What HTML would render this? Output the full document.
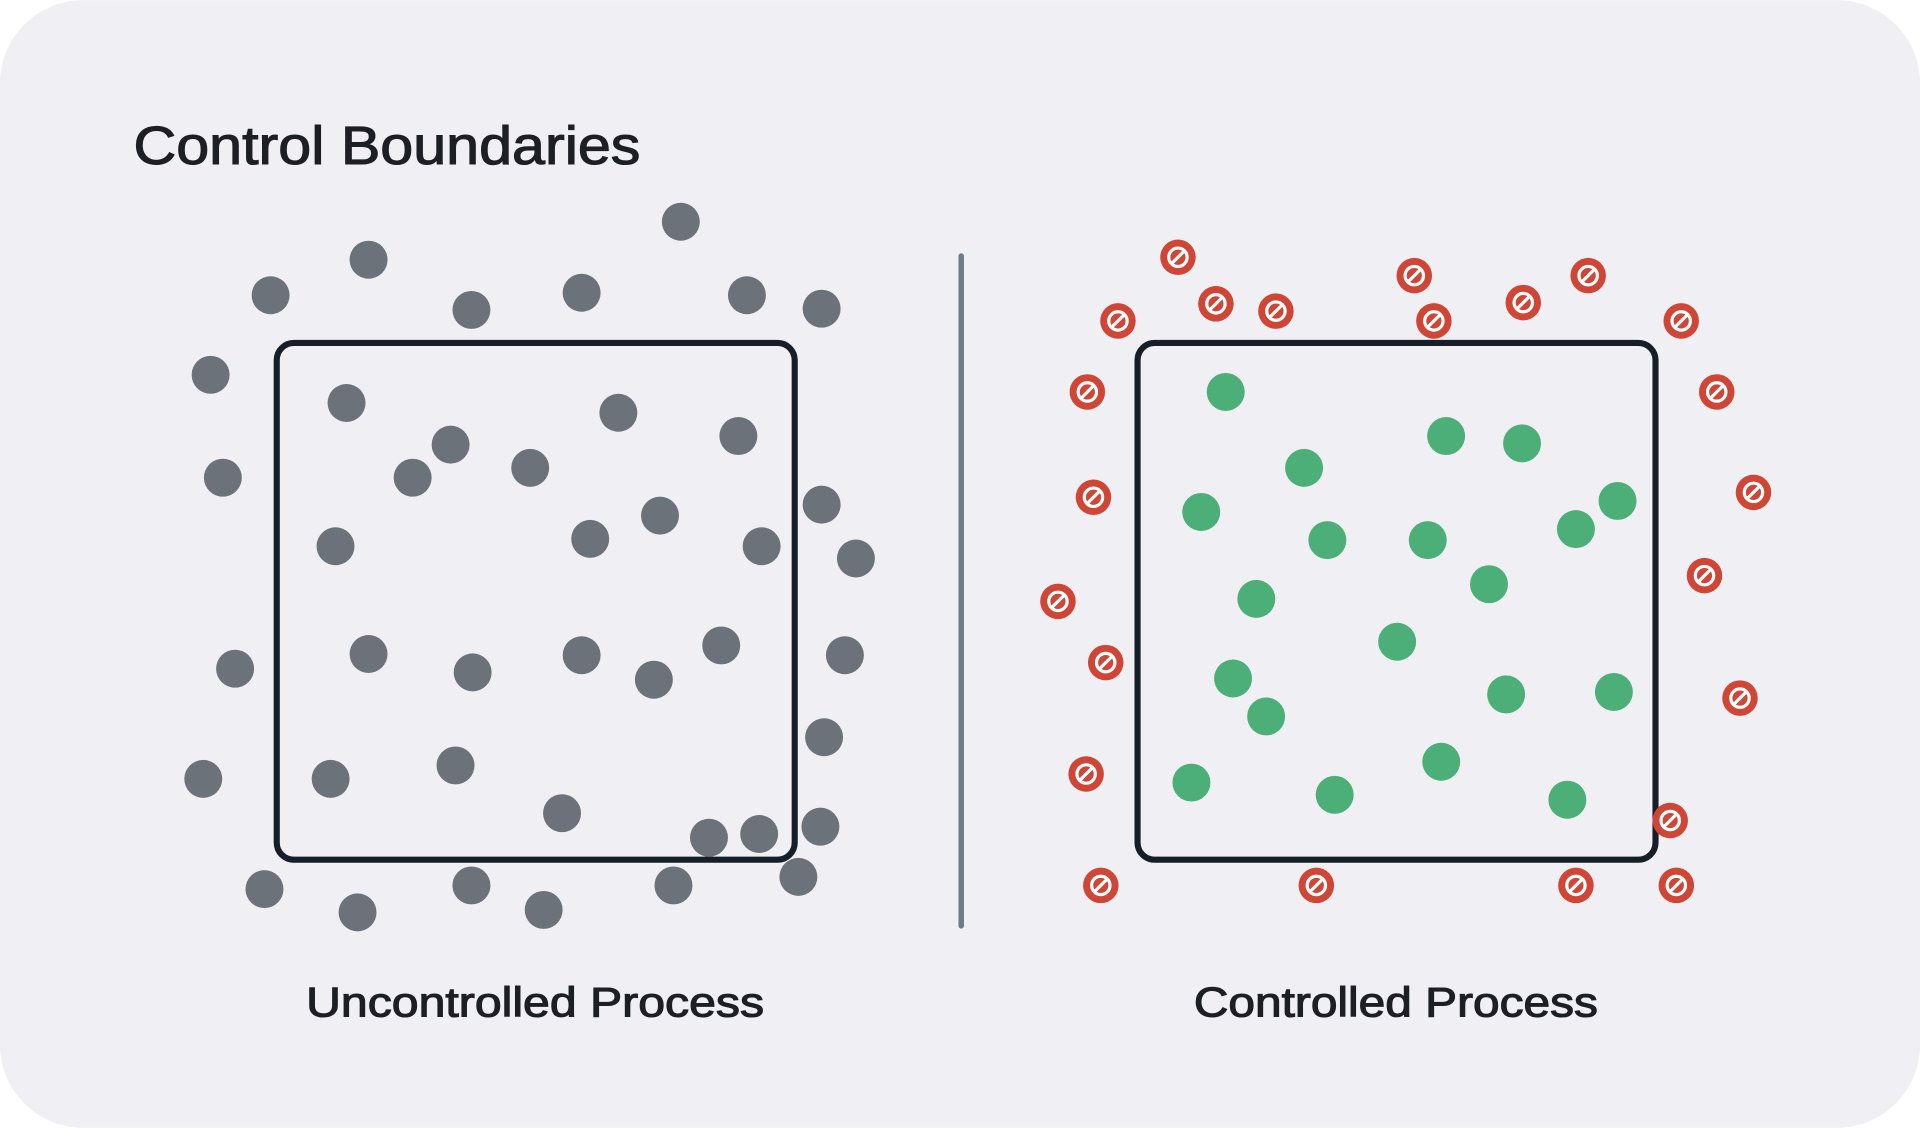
<!DOCTYPE html>
<html><head><meta charset="utf-8"><style>
html,body{margin:0;padding:0;background:#fff;}
svg{display:block;}
</style></head><body>
<svg width="1920" height="1128" viewBox="0 0 1568 921" xmlns="http://www.w3.org/2000/svg">
<defs>
<g id="r">
<circle r="14.5" fill="#cf4636"/>
<circle r="7.5" fill="none" stroke="#fff" stroke-width="2.6"/>
<line x1="-5" y1="5" x2="5" y2="-5" stroke="#fff" stroke-width="2.6"/>
</g>
</defs>
<rect x="0" y="0" width="1568" height="921" rx="68" fill="#f0f0f4"/>
<text x="109" y="134" font-family="Liberation Sans, sans-serif" font-size="44" fill="#1c1f24" stroke="#1c1f24" stroke-width="0.9" textLength="414" lengthAdjust="spacingAndGlyphs">Control Boundaries</text>
<line x1="785" y1="209" x2="785" y2="756" stroke="#6f7c88" stroke-width="4.5" stroke-linecap="round"/>
<rect x="226" y="280" width="423" height="422" rx="14" fill="none" stroke="#161e28" stroke-width="5"/>
<rect x="929" y="280" width="423" height="422" rx="14" fill="none" stroke="#161e28" stroke-width="5"/>
<g fill="#6b727a">
<circle cx="556" cy="181" r="15.5"/><circle cx="301" cy="212" r="15.5"/><circle cx="221" cy="241" r="15.5"/><circle cx="385" cy="253" r="15.5"/><circle cx="475" cy="239" r="15.5"/><circle cx="610" cy="241" r="15.5"/><circle cx="671" cy="252" r="15.5"/><circle cx="172" cy="306" r="15.5"/><circle cx="182" cy="390" r="15.5"/><circle cx="671" cy="412" r="15.5"/><circle cx="699" cy="456" r="15.5"/><circle cx="192" cy="546" r="15.5"/><circle cx="690" cy="535" r="15.5"/><circle cx="673" cy="602" r="15.5"/><circle cx="166" cy="636" r="15.5"/><circle cx="670" cy="675" r="15.5"/><circle cx="652" cy="716" r="15.5"/><circle cx="216" cy="726" r="15.5"/><circle cx="292" cy="745" r="15.5"/><circle cx="385" cy="723" r="15.5"/><circle cx="444" cy="743" r="15.5"/><circle cx="550" cy="723" r="15.5"/>
<circle cx="283" cy="329" r="15.5"/><circle cx="368" cy="363" r="15.5"/><circle cx="337" cy="390" r="15.5"/><circle cx="433" cy="382" r="15.5"/><circle cx="505" cy="337" r="15.5"/><circle cx="603" cy="356" r="15.5"/><circle cx="274" cy="446" r="15.5"/><circle cx="482" cy="440" r="15.5"/><circle cx="539" cy="421" r="15.5"/><circle cx="622" cy="446" r="15.5"/><circle cx="301" cy="534" r="15.5"/><circle cx="386" cy="549" r="15.5"/><circle cx="475" cy="535" r="15.5"/><circle cx="534" cy="555" r="15.5"/><circle cx="589" cy="527" r="15.5"/><circle cx="270" cy="636" r="15.5"/><circle cx="372" cy="625" r="15.5"/><circle cx="459" cy="664" r="15.5"/><circle cx="579" cy="684" r="15.5"/><circle cx="620" cy="681" r="15.5"/>
</g>
<g fill="#4caf78">
<circle cx="1001" cy="320" r="15.5"/><circle cx="1181" cy="356" r="15.5"/><circle cx="1243" cy="362" r="15.5"/><circle cx="1065" cy="382" r="15.5"/><circle cx="981" cy="418" r="15.5"/><circle cx="1084" cy="441" r="15.5"/><circle cx="1166" cy="441" r="15.5"/><circle cx="1321" cy="409" r="15.5"/><circle cx="1287" cy="432" r="15.5"/><circle cx="1216" cy="477" r="15.5"/><circle cx="1026" cy="489" r="15.5"/><circle cx="1141" cy="524" r="15.5"/><circle cx="1007" cy="554" r="15.5"/><circle cx="1034" cy="585" r="15.5"/><circle cx="1230" cy="567" r="15.5"/><circle cx="1318" cy="565" r="15.5"/><circle cx="1177" cy="622" r="15.5"/><circle cx="973" cy="639" r="15.5"/><circle cx="1090" cy="649" r="15.5"/><circle cx="1280" cy="653" r="15.5"/>
</g>
<use href="#r" x="962" y="210"/><use href="#r" x="993" y="248"/><use href="#r" x="1042" y="254"/><use href="#r" x="913" y="262"/><use href="#r" x="1155" y="225"/><use href="#r" x="1171" y="262"/><use href="#r" x="1244" y="247"/><use href="#r" x="1297" y="225"/><use href="#r" x="1373" y="262"/><use href="#r" x="888" y="320"/><use href="#r" x="1402" y="320"/><use href="#r" x="893" y="406"/><use href="#r" x="1432" y="402"/><use href="#r" x="1392" y="470"/><use href="#r" x="864" y="491"/><use href="#r" x="903" y="541"/><use href="#r" x="1421" y="570"/><use href="#r" x="887" y="632"/><use href="#r" x="1364" y="670"/><use href="#r" x="899" y="723"/><use href="#r" x="1075" y="723"/><use href="#r" x="1287" y="723"/><use href="#r" x="1369" y="723"/>
<text x="250" y="830" font-family="Liberation Sans, sans-serif" font-size="34" fill="#1c1f24" stroke="#1c1f24" stroke-width="0.9" textLength="374" lengthAdjust="spacingAndGlyphs">Uncontrolled Process</text>
<text x="975" y="830" font-family="Liberation Sans, sans-serif" font-size="34" fill="#1c1f24" stroke="#1c1f24" stroke-width="0.9" textLength="330" lengthAdjust="spacingAndGlyphs">Controlled Process</text>
</svg>
</body></html>
